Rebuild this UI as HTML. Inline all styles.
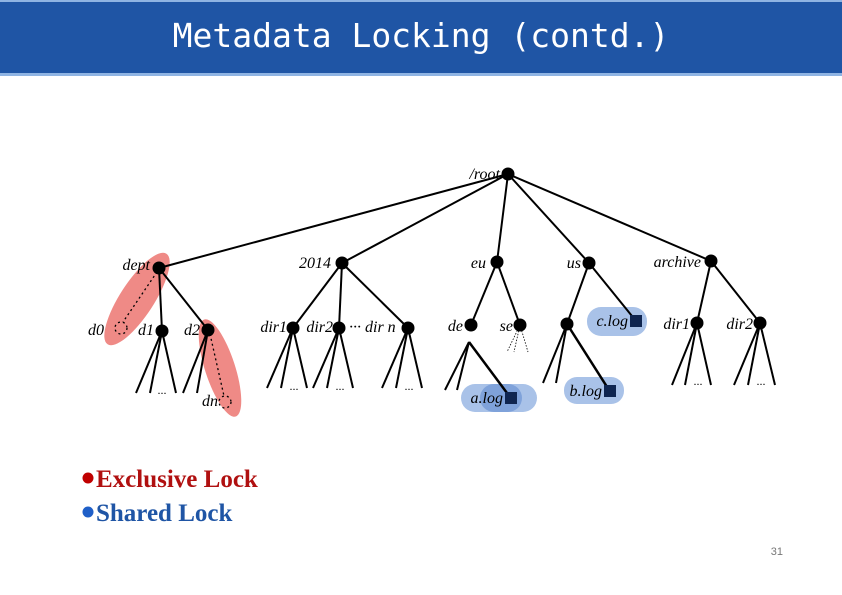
<!DOCTYPE html>
<html><head><meta charset="utf-8"><style>
html,body{margin:0;padding:0;background:#fff;}
svg{display:block;}
</style></head><body>
<svg width="842" height="595" viewBox="0 0 842 595" xmlns="http://www.w3.org/2000/svg">
<rect x="0" y="0" width="842" height="595" fill="#fff"/>
<rect x="0" y="0" width="842" height="76" fill="#8fb4e3"/>
<rect x="0" y="2" width="842" height="71" fill="#1f55a5"/>
<text x="421" y="47" text-anchor="middle" fill="#fff" font-family="DejaVu Sans Mono, Liberation Mono, monospace" font-size="33">Metadata Locking (contd.)</text>

<!-- highlights -->
<ellipse cx="137" cy="299" rx="54" ry="17" transform="rotate(-57 137 299)" fill="#ef8a86"/>
<ellipse cx="220" cy="368" rx="51" ry="15" transform="rotate(72 220 368)" fill="#ef8a86"/>
<rect x="587" y="307" width="60" height="29" rx="14" fill="#a9c2e8"/>
<rect x="564" y="377" width="60" height="27" rx="13" fill="#a9c2e8"/>
<rect x="461" y="384" width="76" height="28" rx="14" fill="#a9c2e8"/>
<rect x="480" y="384" width="42" height="28" rx="14" fill="#7fa2da"/>

<g stroke="#000" stroke-width="2" fill="none">
<!-- root -->
<line x1="508" y1="174" x2="159" y2="268"/>
<line x1="508" y1="174" x2="342" y2="263"/>
<line x1="508" y1="174" x2="497" y2="262"/>
<line x1="508" y1="174" x2="589" y2="263"/>
<line x1="508" y1="174" x2="711" y2="261"/>
<!-- dept -->
<line x1="159" y1="268" x2="162" y2="331"/>
<line x1="159" y1="268" x2="208" y2="330"/>
<line x1="162" y1="331" x2="136" y2="393"/>
<line x1="162" y1="331" x2="150" y2="393"/>
<line x1="162" y1="331" x2="176" y2="393"/>
<line x1="208" y1="330" x2="183" y2="393"/>
<line x1="208" y1="330" x2="197" y2="393"/>
<!-- 2014 -->
<line x1="342" y1="263" x2="293" y2="328"/>
<line x1="342" y1="263" x2="339" y2="328"/>
<line x1="342" y1="263" x2="408" y2="328"/>
<line x1="293" y1="328" x2="267" y2="388"/><line x1="293" y1="328" x2="281" y2="388"/><line x1="293" y1="328" x2="307" y2="388"/>
<line x1="339" y1="328" x2="313" y2="388"/><line x1="339" y1="328" x2="327" y2="388"/><line x1="339" y1="328" x2="353" y2="388"/>
<line x1="408" y1="328" x2="382" y2="388"/><line x1="408" y1="328" x2="396" y2="388"/><line x1="408" y1="328" x2="422" y2="388"/>
<!-- eu -->
<line x1="497" y1="262" x2="471" y2="325"/>
<line x1="497" y1="262" x2="520" y2="325"/>
<line x1="469" y1="342" x2="445" y2="390"/>
<line x1="469" y1="342" x2="457" y2="390"/>
<line x1="469" y1="342" x2="510" y2="397" stroke-width="2.5"/>
<!-- us -->
<line x1="589" y1="263" x2="567" y2="324"/>
<line x1="589" y1="263" x2="636" y2="321"/>
<line x1="567" y1="324" x2="543" y2="383"/>
<line x1="567" y1="324" x2="556" y2="383"/>
<line x1="567" y1="324" x2="609" y2="390" stroke-width="2.5"/>
<!-- archive -->
<line x1="711" y1="261" x2="697" y2="323"/>
<line x1="711" y1="261" x2="760" y2="323"/>
<line x1="697" y1="323" x2="672" y2="385"/><line x1="697" y1="323" x2="685" y2="385"/><line x1="697" y1="323" x2="711" y2="385"/>
<line x1="760" y1="323" x2="734" y2="385"/><line x1="760" y1="323" x2="748" y2="385"/><line x1="760" y1="323" x2="775" y2="385"/>
</g>
<g stroke="#000" stroke-width="1.3" fill="none" stroke-dasharray="2,3">
<line x1="157" y1="272" x2="123" y2="322"/>
<line x1="210" y1="334" x2="224" y2="396"/>
<circle cx="121" cy="328" r="6"/>
<circle cx="225" cy="402" r="6"/>
</g>
<g stroke="#000" stroke-width="0.8" fill="none" stroke-dasharray="1.5,1.5">
<line x1="520" y1="325" x2="507" y2="352"/><line x1="520" y1="325" x2="514" y2="352"/><line x1="520" y1="325" x2="528" y2="352"/>
</g>
<g fill="#000">
<circle cx="508" cy="174" r="6.5"/>
<circle cx="159" cy="268" r="6.5"/>
<circle cx="342" cy="263" r="6.5"/>
<circle cx="497" cy="262" r="6.5"/>
<circle cx="589" cy="263" r="6.5"/>
<circle cx="711" cy="261" r="6.5"/>
<circle cx="162" cy="331" r="6.5"/>
<circle cx="208" cy="330" r="6.5"/>
<circle cx="293" cy="328" r="6.5"/>
<circle cx="339" cy="328" r="6.5"/>
<circle cx="408" cy="328" r="6.5"/>
<circle cx="471" cy="325" r="6.5"/>
<circle cx="520" cy="325" r="6.5"/>
<circle cx="567" cy="324" r="6.5"/>
<circle cx="697" cy="323" r="6.5"/>
<circle cx="760" cy="323" r="6.5"/>
</g>
<g fill="#0f2550">
<rect x="630" y="315" width="12" height="12"/>
<rect x="604" y="385" width="12" height="12"/>
<rect x="505" y="392" width="12" height="12"/>
</g>
<g font-family="Liberation Serif, serif" font-style="italic" font-size="16" fill="#000">
<text x="500" y="179" text-anchor="end">/root</text>
<text x="150" y="270" text-anchor="end">dept</text>
<text x="331" y="268" text-anchor="end">2014</text>
<text x="486" y="268" text-anchor="end">eu</text>
<text x="581" y="268" text-anchor="end">us</text>
<text x="701" y="267" text-anchor="end">archive</text>
<text x="104" y="335" text-anchor="end">d0</text>
<text x="154" y="335" text-anchor="end">d1</text>
<text x="200" y="335" text-anchor="end">d2</text>
<text x="218" y="406" text-anchor="end">dn</text>
<text x="287" y="332" text-anchor="end">dir1</text>
<text x="333" y="332" text-anchor="end">dir2</text>
<text x="349" y="332">··· dir n</text>
<text x="463" y="331" text-anchor="end">de</text>
<text x="513" y="331" text-anchor="end">se</text>
<text x="628" y="326" text-anchor="end">c.log</text>
<text x="602" y="396" text-anchor="end">b.log</text>
<text x="503" y="403" text-anchor="end">a.log</text>
<text x="690" y="329" text-anchor="end">dir1</text>
<text x="753" y="329" text-anchor="end">dir2</text>
<text x="162" y="394" text-anchor="middle" font-style="normal" font-size="12">...</text>
<text x="294" y="390" text-anchor="middle" font-style="normal" font-size="12">...</text>
<text x="340" y="390" text-anchor="middle" font-style="normal" font-size="12">...</text>
<text x="409" y="390" text-anchor="middle" font-style="normal" font-size="12">...</text>
<text x="698" y="385" text-anchor="middle" font-style="normal" font-size="12">...</text>
<text x="761" y="385" text-anchor="middle" font-style="normal" font-size="12">...</text>
</g>
<g font-family="Liberation Serif, serif" font-weight="bold" font-size="25">
<circle cx="88" cy="478" r="5.5" fill="#c00000"/>
<text x="96" y="487" fill="#b01010">Exclusive Lock</text>
<circle cx="88" cy="512" r="5.5" fill="#1f5fc8"/>
<text x="96" y="521" fill="#1f55a5">Shared Lock</text>
</g>
<text x="783" y="555" text-anchor="end" font-family="Liberation Sans, sans-serif" font-size="11" fill="#777">31</text>
</svg>
</body></html>
